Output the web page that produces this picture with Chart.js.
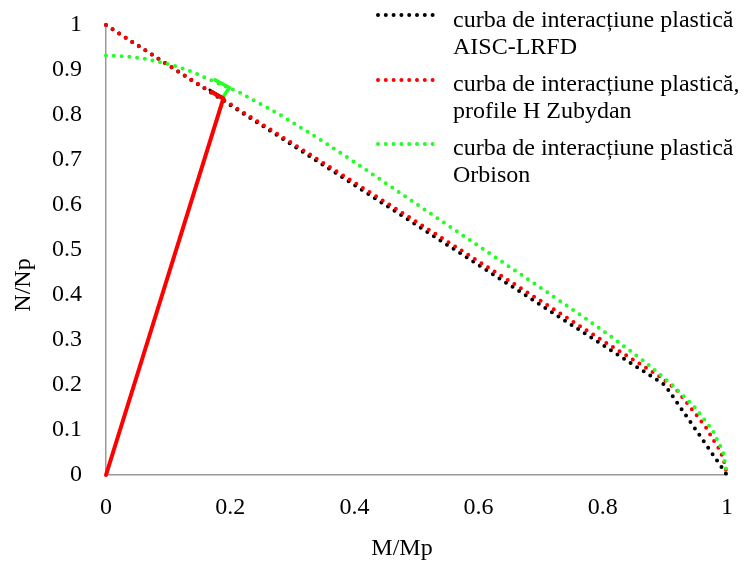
<!DOCTYPE html>
<html lang="ro">
  <head>
    <meta charset="UTF-8" />
    <title>Curbe de interacțiune plastică</title>
    <script src="https://cdn.jsdelivr.net/npm/chart.js"></script>
    <style>
      body { margin: 0; background: #fff; }
      #wrap { width: 748px; height: 563px; }
    </style>
  </head>
  <body>
    <div id="wrap"><canvas id="myChart" width="748" height="563"></canvas></div>

    <script>
      // AISC-LRFD interaction curve (M/Mp, N/Np)
      var aiscM = [0, 0.9, 1];
      var aiscN = [1, 0.2, 0];

      // Zubydan curve for H sections
      var zubM = [0, 0.1, 0.2, 0.3, 0.4, 0.5, 0.6, 0.7, 0.78, 0.82, 0.863, 0.895, 0.919, 0.935, 0.951, 0.966, 0.978, 0.986, 0.991, 0.995, 1];
      var zubN = [1, 0.911, 0.8242, 0.737, 0.65, 0.5626, 0.4747, 0.387, 0.316, 0.281, 0.244, 0.216, 0.189, 0.161, 0.133, 0.106, 0.078, 0.061, 0.047, 0.032, 0];

      // Orbison curve
      var orbM = [0, 0.0358, 0.0622, 0.1087, 0.1313, 0.2152, 0.2808, 0.3395, 0.395, 0.449, 0.5024, 0.5559, 0.6096, 0.6634, 0.717, 0.7699, 0.8209, 0.8689, 0.9121, 0.9486, 0.9765, 0.994, 1];
      var orbN = [0.9325, 0.93, 0.925, 0.91, 0.9, 0.85, 0.8, 0.75, 0.7, 0.65, 0.6, 0.55, 0.5, 0.45, 0.4, 0.35, 0.3, 0.25, 0.2, 0.15, 0.1, 0.05, 0];

      // load path and the small direction marks at its end
      var pathM = [0, 0.189];
      var pathN = [0, 0.837];
      var hookBlackM = [0.187, 0.167];
      var hookBlackN = [0.840, 0.856];
      var hookRedM = [0.189, 0.170];
      var hookRedN = [0.836, 0.851];
      var hookGreenM = [0.189, 0.1986, 0.1755];
      var hookGreenN = [0.8407, 0.861, 0.878];

      var xTickValues = [0, 0.2, 0.4, 0.6, 0.8, 1];
      var yTickValues = [0, 0.1, 0.2, 0.3, 0.4, 0.5, 0.6, 0.7, 0.8, 0.9, 1];

      var legendNames = [
        ["curba de interacțiune plastică", "AISC-LRFD"],
        ["curba de interacțiune plastică,", "profile H Zubydan"],
        ["curba de interacțiune plastică", "Orbison"],
      ];

      var BLACK = "#000000";
      var RED = "#ff0000";
      var GREEN = "#22ff22";
      var FONT = "'Liberation Serif', 'Times New Roman', serif";

      function pts(xs, ys) {
        return xs.map(function (x, i) {
          return { x: x, y: ys[i] };
        });
      }

      function dotted(label, xs, ys, color, order) {
        return {
          label: label,
          data: pts(xs, ys),
          showLine: true,
          borderColor: color,
          borderWidth: 4,
          borderDash: [0, 7.8],
          borderCapStyle: "round",
          pointRadius: 0,
          tension: 0,
          clip: false,
          order: order,
        };
      }

      function solid(xs, ys, color, width, order) {
        return {
          data: pts(xs, ys),
          showLine: true,
          borderColor: color,
          borderWidth: width,
          borderCapStyle: "round",
          borderJoinStyle: "miter",
          pointRadius: 0,
          tension: 0,
          clip: false,
          order: order,
        };
      }

      // legend drawn at the top right, two text lines per entry
      var legendPlugin = {
        id: "sideLegend",
        afterDraw: function (chart) {
          var ctx = chart.ctx;
          var colors = [BLACK, RED, GREEN];
          var lineY = [15, 80, 144];
          var baseY = [26.7, 90.7, 155];
          ctx.save();
          ctx.font = "24px " + FONT;
          ctx.fillStyle = "#000";
          ctx.textAlign = "left";
          ctx.textBaseline = "alphabetic";
          legendNames.forEach(function (lines, i) {
            ctx.beginPath();
            ctx.setLineDash([0, 7.8]);
            ctx.lineCap = "round";
            ctx.lineWidth = 4;
            ctx.strokeStyle = colors[i];
            ctx.moveTo(378, lineY[i]);
            ctx.lineTo(440, lineY[i]);
            ctx.stroke();
            ctx.fillText(lines[0], 453, baseY[i]);
            ctx.fillText(lines[1], 453, baseY[i] + 27);
          });
          ctx.restore();
        },
      };

      // axis titles
      var titlePlugin = {
        id: "axisTitles",
        afterDraw: function (chart) {
          var ctx = chart.ctx;
          ctx.save();
          ctx.font = "24px " + FONT;
          ctx.fillStyle = "#000";
          ctx.textAlign = "center";
          ctx.textBaseline = "alphabetic";
          ctx.fillText("M/Mp", 402, 555);
          ctx.translate(30, 285);
          ctx.rotate(-Math.PI / 2);
          ctx.fillText("N/Np", 0, 0);
          ctx.restore();
        },
      };

      var ctx = document.getElementById("myChart").getContext("2d");
      window.myChart = new Chart(ctx, {
        type: "scatter",
        data: {
          datasets: [
            dotted("AISC-LRFD", aiscM, aiscN, BLACK, 10),
            dotted("Zubydan", zubM, zubN, RED, 9),
            dotted("Orbison", orbM, orbN, GREEN, 8),
            solid(hookGreenM, hookGreenN, GREEN, 3.5, 4),
            solid(hookBlackM, hookBlackN, BLACK, 2.5, 3),
            solid(hookRedM, hookRedN, RED, 4, 2),
            solid(pathM, pathN, RED, 4, 1),
          ],
        },
        options: {
          responsive: false,
          animation: false,
          devicePixelRatio: 1,
          layout: {
            padding: { top: 25, right: 21, left: 0, bottom: 0 },
          },
          plugins: {
            legend: { display: false },
            tooltip: { enabled: false },
          },
          scales: {
            x: {
              type: "linear",
              position: "bottom",
              min: 0,
              max: 1,
              grid: { display: false, drawTicks: false },
              border: { color: "#999999", width: 1.5 },
              afterBuildTicks: function (scale) {
                scale.ticks = xTickValues.map(function (v) {
                  return { value: v };
                });
              },
              afterFit: function (scale) {
                scale.height = 88;
                scale.paddingLeft = 0;
                scale.paddingRight = 0;
              },
              ticks: {
                padding: 18,
                color: "#000",
                maxRotation: 0,
                font: { family: FONT, size: 24 },
                callback: function (v) {
                  return String(v);
                },
              },
            },
            y: {
              type: "linear",
              min: 0,
              max: 1,
              grid: { display: false, drawTicks: false },
              border: { color: "#999999", width: 1.5 },
              afterBuildTicks: function (scale) {
                scale.ticks = yTickValues.map(function (v) {
                  return { value: v };
                });
              },
              afterFit: function (scale) {
                scale.width = 106;
                scale.paddingTop = 0;
                scale.paddingBottom = 0;
              },
              ticks: {
                padding: 24,
                color: "#000",
                font: { family: FONT, size: 24 },
                callback: function (v) {
                  return String(v);
                },
              },
            },
          },
        },
        plugins: [legendPlugin, titlePlugin],
      });
    </script>
  </body>
</html>
